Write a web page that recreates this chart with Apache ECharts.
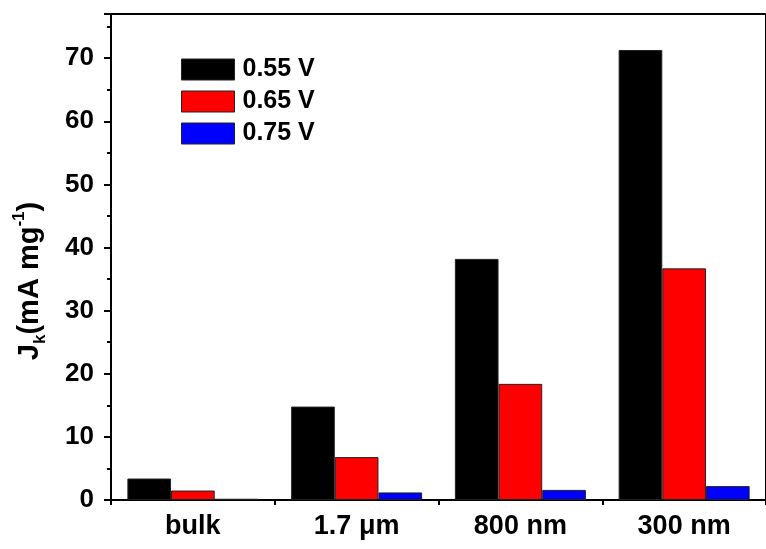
<!DOCTYPE html>
<html>
<head>
<meta charset="utf-8">
<script src="https://cdn.jsdelivr.net/npm/echarts@6/dist/echarts.min.js"></script>
<style>
html,body{margin:0;padding:0;background:#fff;}
#c{width:766px;height:549px;}
</style>
</head>
<body>
<div id="c"></div>
<script>
const categories = ['bulk', '1.7 μm', '800 nm', '300 nm'];
const seriesNames = ['0.55 V', '0.65 V', '0.75 V'];
const v055 = [3.4, 14.8, 38.2, 71.3];
const v065 = [1.5, 6.8, 18.4, 36.7];
const v075 = [0.2, 1.2, 1.6, 2.2];
const yTicks = [0, 10, 20, 30, 40, 50, 60, 70];
const colors = ['#000000', '#ff0000', '#0000ff'];

const FONT = '"Liberation Sans", Arial, sans-serif';
const chart = echarts.init(document.getElementById('c'), null, {renderer: 'canvas'});
const values = [v055, v065, v075];

chart.setOption({
  animation: false,
  backgroundColor: '#ffffff',
  grid: {left: 111, top: 14, bottom: 49, right: -9, show: true, borderColor: '#000', borderWidth: 2, containLabel: false},
  legend: {
    orient: 'vertical', left: 181, top: 57, padding: 0,
    itemWidth: 53, itemHeight: 21, itemGap: 7,
    icon: 'rect',
    data: seriesNames,
    textStyle: {fontFamily: FONT, fontWeight: 'bold', fontSize: 25, lineHeight: 25, color: '#000', padding: [0, 0, 0, 3]},
    itemStyle: {borderColor: '#222', borderWidth: 1}
  },
  xAxis: [{
    type: 'category', data: categories, position: 'bottom',
    axisLine: {lineStyle: {color: '#000', width: 2}},
    axisTick: {alignWithLabel: true, length: 8, lineStyle: {color: '#000', width: 2}},
    axisLabel: {fontFamily: FONT, fontWeight: 'bold', fontSize: 27, color: '#000', margin: 13}
  }, {
    type: 'category', data: categories, position: 'bottom', boundaryGap: true,
    axisLine: {show: false},
    axisTick: {show: true, length: 5, lineStyle: {color: '#000', width: 2}},
    axisLabel: {show: false}
  }],
  yAxis: {
    type: 'value', min: 0, max: 77, interval: 10,
    axisLine: {show: true, lineStyle: {color: '#000', width: 2}},
    axisTick: {show: true, length: 7, lineStyle: {color: '#000', width: 2}},
    minorTick: {show: true, splitNumber: 2, length: 4, lineStyle: {color: '#000', width: 2}},
    splitLine: {show: false},
    axisLabel: {
      fontFamily: FONT, fontWeight: 'bold', fontSize: 26, color: '#000', margin: 17,
      showMaxLabel: false,
      formatter: function (v) { return yTicks.indexOf(v) >= 0 ? String(v) : ''; }
    }
  },
  graphic: [{
    type: 'text', x: 30, y: 281, rotation: Math.PI / 2,
    style: {
      text: '{n|J}{sub|k}{n|(mA mg}{sup|-1}{n|)}',
      align: 'center', verticalAlign: 'middle',
      fill: '#000',
      rich: {
        n: {fontFamily: FONT, fontWeight: 'bold', fontSize: 29, lineHeight: 38, fill: '#000', verticalAlign: 'middle'},
        sub: {fontFamily: FONT, fontWeight: 'bold', fontSize: 17, lineHeight: 38, fill: '#000', verticalAlign: 'bottom'},
        sup: {fontFamily: FONT, fontWeight: 'bold', fontSize: 17, lineHeight: 38, fill: '#000', verticalAlign: 'top'}
      }
    }
  }],
  series: seriesNames.map(function (name, i) {
    return {
      name: name, type: 'bar', data: values[i],
      barGap: '0%', barCategoryGap: '20%',
      itemStyle: {color: colors[i], borderColor: '#222', borderWidth: 1}
    };
  })
});
</script>
</body>
</html>
